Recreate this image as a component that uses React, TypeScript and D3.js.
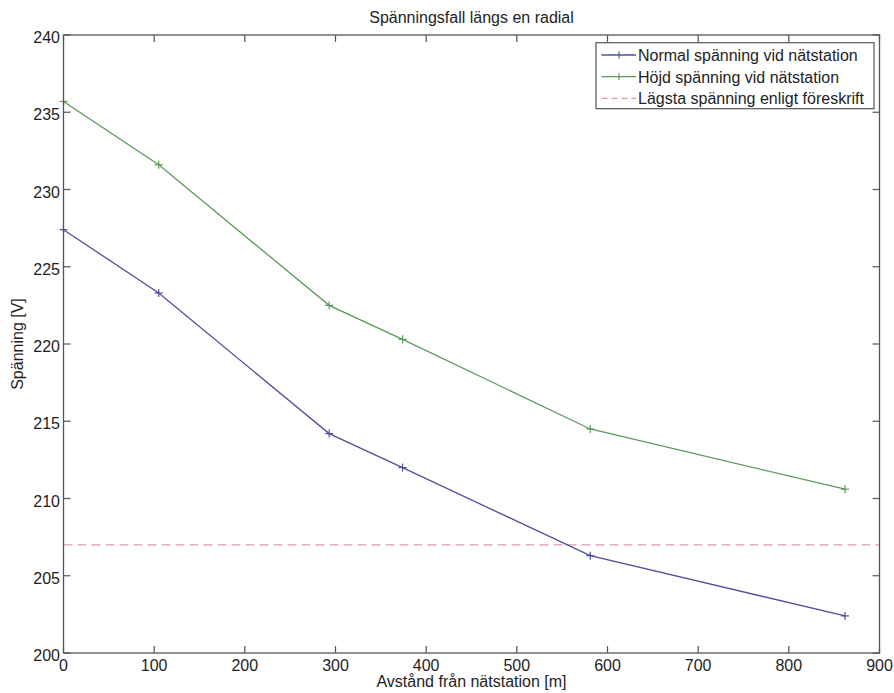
import React from "react";
import * as d3 from "d3";

const distances = [0, 105, 293, 374, 581, 862];
const normalVoltage = [227.4, 223.3, 214.2, 212.0, 206.3, 202.4];
const raisedVoltage = [235.7, 231.6, 222.5, 220.3, 214.5, 210.6];
const minVoltage = 207;
const xTicks = [0, 100, 200, 300, 400, 500, 600, 700, 800, 900];
const yTicks = [200, 205, 210, 215, 220, 225, 230, 235, 240];
const seriesNames = [
  "Normal spänning vid nätstation",
  "Höjd spänning vid nätstation",
  "Lägsta spänning enligt föreskrift",
];
const title = "Spänningsfall längs en radial";
const xLabel = "Avstånd från nätstation [m]";
const yLabel = "Spänning [V]";

const W = 894;
const H = 693;
const L = 63.5, R = 879.5, T = 35, B = 653;
const BLUE = "#4f4f9c";
const GREEN = "#5c9a5c";
const RED = "#e39aa6";
const AXIS = "#555";
const TEXT = "#1e1e1e";
const FONT = "'Liberation Sans', Arial, Helvetica, sans-serif";

export default function App() {
  const x = d3.scaleLinear().domain([0, 900]).range([L, R]);
  const y = d3.scaleLinear().domain([200, 240]).range([B, T]);
  const line = d3
    .line<[number, number]>()
    .x((d) => x(d[0]))
    .y((d) => y(d[1]));
  const blueData = distances.map((d, i) => [d, normalVoltage[i]] as [number, number]);
  const greenData = distances.map((d, i) => [d, raisedVoltage[i]] as [number, number]);
  const tl = 7;
  const ms = 4;
  const plus = (cx: number, cy: number, c: string, k: string) => (
    <g key={k} stroke={c} strokeWidth={1.2}>
      <line x1={cx - ms} x2={cx + ms} y1={cy} y2={cy} />
      <line x1={cx} x2={cx} y1={cy - ms} y2={cy + ms} />
    </g>
  );
  const legX = 596, legY = 42.7, legW = 278, legH = 66;
  const rows = [55, 76.7, 98.3];
  const colors = [BLUE, GREEN, RED];
  return (
    <div style={{ position: "absolute", left: 0, top: 0 }}>
      <svg width={W} height={H} style={{ display: "block", background: "#fff" }} fontFamily={FONT}>
        <rect x={0} y={0} width={W} height={H} fill="#fff" />
        {/* data */}
        <line x1={x(0)} x2={x(900)} y1={y(minVoltage)} y2={y(minVoltage)} stroke={RED} strokeWidth={1.3} strokeDasharray="9,5" />
        <path d={line(blueData) || ""} fill="none" stroke={BLUE} strokeWidth={1.3} />
        <path d={line(greenData) || ""} fill="none" stroke={GREEN} strokeWidth={1.3} />
        {blueData.map((d, i) => plus(x(d[0]), y(d[1]), BLUE, "b" + i))}
        {greenData.map((d, i) => plus(x(d[0]), y(d[1]), GREEN, "g" + i))}
        {/* axes box */}
        <rect x={L} y={T} width={R - L} height={B - T} fill="none" stroke={AXIS} strokeWidth={1.3} />
        {xTicks.map((t) => (
          <g key={"xt" + t} stroke={AXIS} strokeWidth={1.2}>
            <line x1={x(t)} x2={x(t)} y1={B} y2={B - tl} />
            <line x1={x(t)} x2={x(t)} y1={T} y2={T + tl} />
          </g>
        ))}
        {yTicks.map((t) => (
          <g key={"yt" + t} stroke={AXIS} strokeWidth={1.2}>
            <line x1={L} x2={L + tl} y1={y(t)} y2={y(t)} />
            <line x1={R} x2={R - tl} y1={y(t)} y2={y(t)} />
          </g>
        ))}
        {xTicks.map((t) => (
          <text key={"xl" + t} x={x(t)} y={671} textAnchor="middle" fontSize={16} fill={TEXT}>
            {t}
          </text>
        ))}
        {yTicks.map((t) => (
          <text key={"yl" + t} x={60} y={y(t) + 8} textAnchor="end" fontSize={16} fill={TEXT}>
            {t}
          </text>
        ))}
        <text x={(L + R) / 2} y={23} textAnchor="middle" fontSize={16} fill={TEXT}>
          {title}
        </text>
        <text x={(L + R) / 2} y={687} textAnchor="middle" fontSize={16} fill={TEXT}>
          {xLabel}
        </text>
        <text
          transform={`translate(${23},${(T + B) / 2}) rotate(-90)`}
          textAnchor="middle"
          fontSize={16}
          fill={TEXT}
        >
          {yLabel}
        </text>
        {/* legend */}
        <rect x={legX} y={legY} width={legW} height={legH} fill="#fff" stroke={AXIS} strokeWidth={1.2} />
        {seriesNames.map((n, i) => (
          <g key={"lg" + i}>
            <line
              x1={601.5}
              x2={636}
              y1={rows[i]}
              y2={rows[i]}
              stroke={colors[i]}
              strokeWidth={1.3}
              strokeDasharray={i === 2 ? "6,4" : undefined}
            />
            {i < 2 && (
              <line x1={619} x2={619} y1={rows[i] - 3.5} y2={rows[i] + 3.5} stroke={colors[i]} strokeWidth={1.2} />
            )}
            <text x={638} y={rows[i] + 6} fontSize={16} fill={TEXT}>
              {n}
            </text>
          </g>
        ))}
      </svg>
    </div>
  );
}
